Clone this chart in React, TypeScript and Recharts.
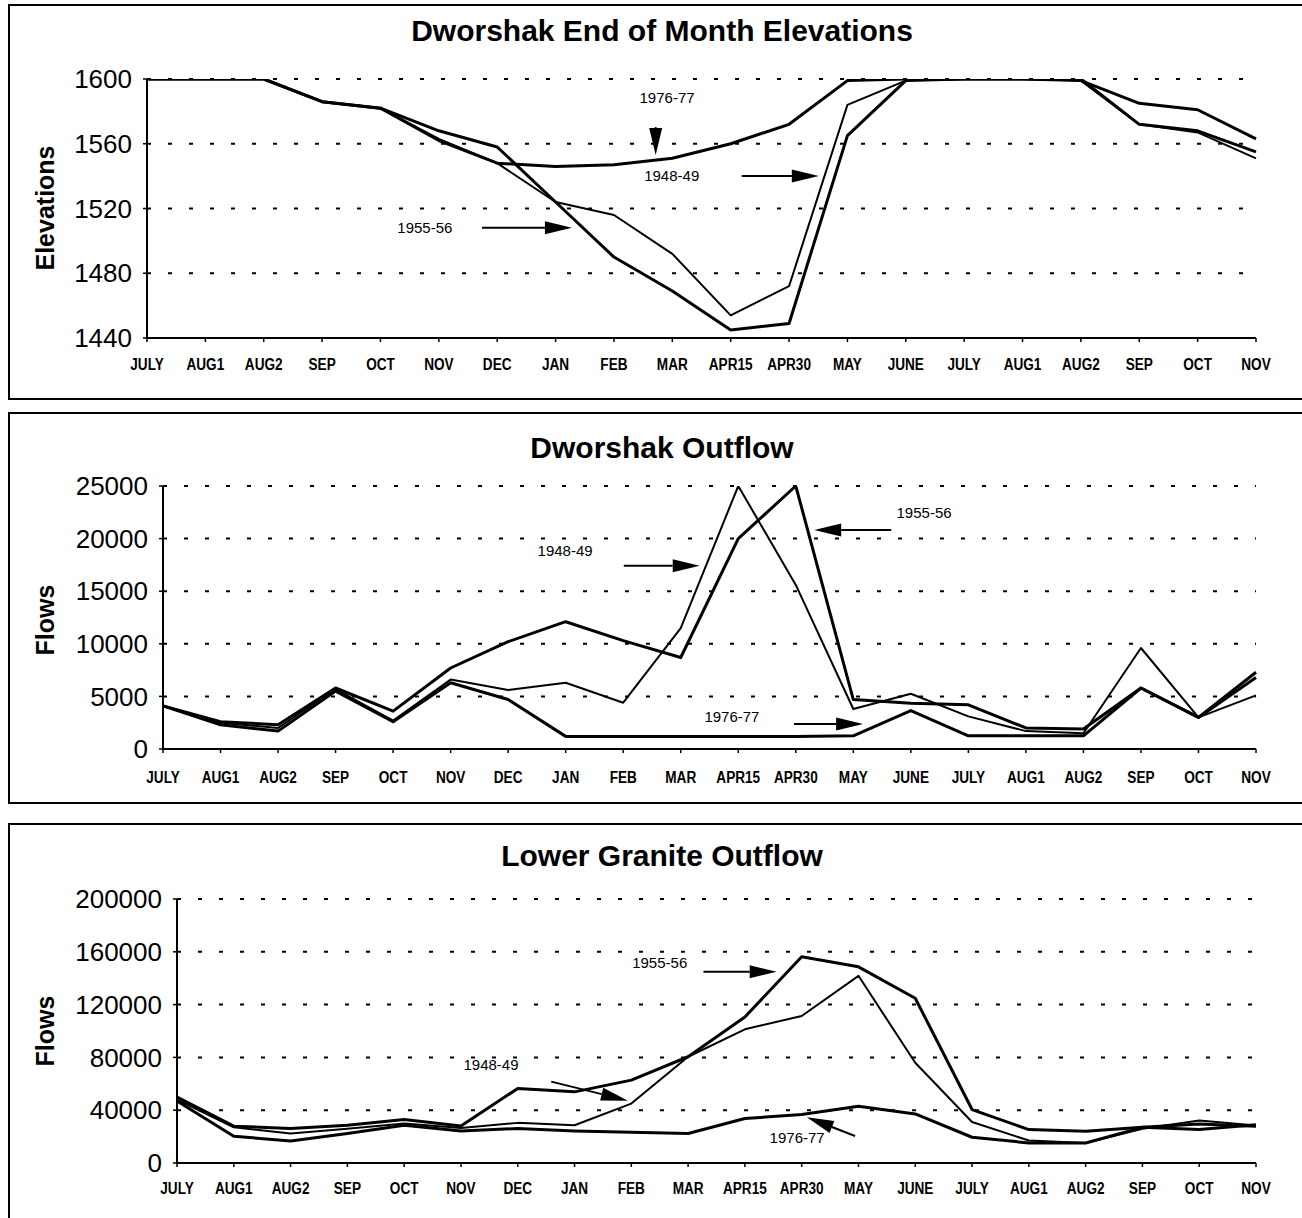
import React from 'react';
import { LineChart, Line, XAxis, YAxis, CartesianGrid, ReferenceLine, ReferenceDot } from 'recharts';

const CATEGORIES = ['JULY', 'AUG1', 'AUG2', 'SEP', 'OCT', 'NOV', 'DEC', 'JAN', 'FEB', 'MAR', 'APR15', 'APR30', 'MAY', 'JUNE', 'JULY', 'AUG1', 'AUG2', 'SEP', 'OCT', 'NOV'];
const X_TICKS = CATEGORIES.map((_, i) => i);

// Dworshak End of Month Elevations
const ELEV_1948_49 = [1600, 1600, 1600, 1586, 1582, 1563, 1548, 1524, 1516, 1492, 1454, 1472, 1584, 1599, 1600, 1600, 1599, 1572, 1567, 1551];
const ELEV_1955_56 = [1600, 1600, 1600, 1586, 1582, 1568, 1558, 1524, 1490, 1469, 1445, 1449, 1565, 1599, 1600, 1600, 1599, 1585, 1581, 1563];
const ELEV_1976_77 = [1600, 1600, 1600, 1586, 1582, 1562, 1548, 1546, 1547, 1551, 1560, 1572, 1599, 1600, 1600, 1600, 1600, 1572, 1568, 1555];
const ELEV_TICKS = [1440, 1480, 1520, 1560, 1600];

// Dworshak Outflow
const DWOR_1948_49 = [4100, 2500, 2000, 5700, 2700, 6600, 5600, 6300, 4400, 11500, 25000, 15600, 3800, 5250, 3100, 1700, 1500, 9600, 3000, 5100];
const DWOR_1955_56 = [4100, 2600, 2300, 5800, 3600, 7700, 10200, 12100, 10300, 8700, 20000, 25000, 4700, 4350, 4200, 2000, 1900, 5800, 3000, 7300];
const DWOR_1976_77 = [4100, 2300, 1700, 5500, 2600, 6300, 4700, 1200, 1200, 1200, 1200, 1200, 1250, 3650, 1250, 1250, 1250, 5800, 3000, 6800];
const DWOR_TICKS = [0, 5000, 10000, 15000, 20000, 25000];

// Lower Granite Outflow
const LGR_1948_49 = [48000, 27000, 22300, 26000, 29900, 26500, 30400, 28600, 45000, 80500, 101300, 111400, 141800, 75900, 31100, 17000, 15200, 26000, 32200, 28500];
const LGR_1955_56 = [50000, 27900, 26100, 28600, 32900, 28000, 56500, 53900, 62800, 80500, 110600, 156200, 148600, 124800, 40500, 25300, 24100, 27100, 29600, 27800];
const LGR_1976_77 = [47000, 20300, 16700, 22300, 28600, 24300, 26100, 24300, 23300, 22300, 33700, 36700, 43000, 37200, 19500, 15200, 15200, 27000, 25300, 29000];
const LGR_TICKS = [0, 40000, 80000, 120000, 160000, 200000];

// Annotations (data coordinates: category index, value)
const ELEV_LABELS = [
  { text: '1976-77', x: 8.91, y: 1588.3 },
  { text: '1948-49', x: 8.99, y: 1540 },
  { text: '1955-56', x: 4.76, y: 1508 },
];
const ELEV_ARROWS = [
  { x1: 8.715, y1: 1570.3, x2: 8.715, y2: 1553 },
  { x1: 10.19, y1: 1540.1, x2: 11.51, y2: 1540.1 },
  { x1: 5.74, y1: 1508.1, x2: 7.28, y2: 1508.1 },
];
const DWOR_LABELS = [
  { text: '1948-49', x: 6.99, y: 18821 },
  { text: '1955-56', x: 13.23, y: 22433 },
  { text: '1976-77', x: 9.89, y: 3042 },
];
const DWOR_ARROWS = [
  { x1: 8.01, y1: 17424, x2: 9.33, y2: 17424 },
  { x1: 12.66, y1: 20817, x2: 11.32, y2: 20817 },
  { x1: 10.97, y1: 2376, x2: 12.17, y2: 2376 },
];
const LGR_LABELS = [
  { text: '1955-56', x: 8.5, y: 151688 },
  { text: '1948-49', x: 5.53, y: 74327 },
  { text: '1976-77', x: 10.92, y: 18961 },
];
const LGR_ARROWS = [
  { x1: 9.27, y1: 144862, x2: 10.56, y2: 144862 },
  { x1: 6.59, y1: 61661, x2: 7.94, y2: 47250 },
  { x1: 11.94, y1: 20478, x2: 11.09, y2: 34662 },
];

const FONT = "'Liberation Sans', Arial, Helvetica, sans-serif";

const buildRows = (a: number[], b: number[], c: number[]) =>
  CATEGORIES.map((_, i) => ({ x: i, s1948: a[i], s1955: b[i], s1976: c[i] }));

const ArrowShape = (p: any) => {
  const { x1, y1, x2, y2 } = p;
  const dx = x2 - x1;
  const dy = y2 - y1;
  const len = Math.hypot(dx, dy) || 1;
  const ux = dx / len;
  const uy = dy / len;
  const hl = Math.min(27, len);
  const hw = 6.5;
  const bx = x2 - ux * hl;
  const by = y2 - uy * hl;
  return (
    <g>
      {len > hl + 0.5 && <line x1={x1} y1={y1} x2={bx} y2={by} stroke="#000" strokeWidth={2} />}
      <polygon points={`${x2},${y2} ${bx - uy * hw},${by + ux * hw} ${bx + uy * hw},${by - ux * hw}`} fill="#000" />
    </g>
  );
};

const labelShape = (text: string) => (p: any) => (
  <text x={p.cx} y={p.cy} dy="0.35em" textAnchor="middle" fontFamily={FONT} fontSize={15} fill="#000">
    {text}
  </text>
);

const XTick = (p: any) => {
  const { x, y, payload } = p;
  return (
    <g transform={`translate(${x},${y})`}>
      <text
        transform="scale(0.8,1)"
        x={0}
        y={0}
        dy="0.71em"
        textAnchor="middle"
        fontFamily={FONT}
        fontWeight={700}
        fontSize={17}
        fill="#000"
      >
        {CATEGORIES[payload.value] ?? ''}
      </text>
    </g>
  );
};

type PanelProps = {
  top: number;
  height: number;
  marginTop: number;
  marginBottom: number;
  yWidth: number;
  xTickMargin: number;
  domain: [number, number];
  ticks: number[];
  rows: any[];
  labels: { text: string; x: number; y: number }[];
  arrows: { x1: number; y1: number; x2: number; y2: number }[];
};

const Panel = (props: PanelProps) => {
  const { top, height, marginTop, marginBottom, yWidth, xTickMargin, domain, ticks, rows, labels, arrows } = props;
  return (
    <div style={{ position: 'absolute', left: 0, top, width: 1302, height }}>
      <LineChart
        width={1302}
        height={height}
        data={rows}
        margin={{ top: marginTop, right: 46, bottom: marginBottom, left: 0 }}
      >
        <CartesianGrid vertical={false} stroke="#000" strokeWidth={2} strokeDasharray="4 17" />
        <XAxis
          dataKey="x"
          type="number"
          domain={[0, 19]}
          ticks={X_TICKS}
          interval={0}
          allowDecimals={false}
          height={40}
          tick={<XTick />}
          tickSize={4}
          tickMargin={xTickMargin}
          axisLine={{ stroke: '#000', strokeWidth: 2 }}
          tickLine={{ stroke: '#000', strokeWidth: 1.5 }}
        />
        <YAxis
          type="number"
          domain={domain}
          ticks={ticks}
          interval={0}
          width={yWidth}
          tick={{ fontSize: 26, fontFamily: FONT, fill: '#000' }}
          tickSize={4}
          tickMargin={11}
          axisLine={{ stroke: '#000', strokeWidth: 2 }}
          tickLine={{ stroke: '#000', strokeWidth: 1.5 }}
          allowDataOverflow
        />
        <Line dataKey="s1948" stroke="#000" strokeWidth={2} dot={false} activeDot={false} isAnimationActive={false} strokeLinejoin="round" />
        <Line dataKey="s1955" stroke="#000" strokeWidth={3} dot={false} activeDot={false} isAnimationActive={false} strokeLinejoin="round" />
        <Line dataKey="s1976" stroke="#000" strokeWidth={3} dot={false} activeDot={false} isAnimationActive={false} strokeLinejoin="round" />
        {arrows.map((a, i) => (
          <ReferenceLine
            key={'a' + i}
            segment={[{ x: a.x1, y: a.y1 }, { x: a.x2, y: a.y2 }]}
            ifOverflow="visible"
            shape={ArrowShape}
          />
        ))}
        {labels.map((l, i) => (
          <ReferenceDot key={'l' + i} x={l.x} y={l.y} r={4} ifOverflow="visible" shape={labelShape(l.text)} />
        ))}
      </LineChart>
    </div>
  );
};

const TITLES = [
  { text: 'Dworshak End of Month Elevations', y: 30 },
  { text: 'Dworshak Outflow', y: 447 },
  { text: 'Lower Granite Outflow', y: 855 },
];
const Y_LABELS = [
  { text: 'Elevations', y: 208 },
  { text: 'Flows', y: 620 },
  { text: 'Flows', y: 1031 },
];

export default function App() {
  return (
    <div style={{ position: 'absolute', left: 0, top: 0, width: 1302, height: 1218, overflow: 'hidden', background: '#fff' }}>
      <div style={{ position: 'absolute', left: 8, top: 4, width: 1320, height: 392, border: '2px solid #000' }} />
      <div style={{ position: 'absolute', left: 8, top: 412, width: 1320, height: 388, border: '2px solid #000' }} />
      <div style={{ position: 'absolute', left: 8, top: 823, width: 1320, height: 500, border: '2px solid #000' }} />
      <Panel
        top={0}
        height={398}
        marginTop={79}
        marginBottom={20}
        yWidth={147}
        xTickMargin={16}
        domain={[1440, 1600]}
        ticks={ELEV_TICKS}
        rows={buildRows(ELEV_1948_49, ELEV_1955_56, ELEV_1976_77)}
        labels={ELEV_LABELS}
        arrows={ELEV_ARROWS}
      />
      <Panel
        top={405}
        height={397}
        marginTop={81}
        marginBottom={13}
        yWidth={163}
        xTickMargin={18}
        domain={[0, 25000]}
        ticks={DWOR_TICKS}
        rows={buildRows(DWOR_1948_49, DWOR_1955_56, DWOR_1976_77)}
        labels={DWOR_LABELS}
        arrows={DWOR_ARROWS}
      />
      <Panel
        top={820}
        height={398}
        marginTop={79}
        marginBottom={15}
        yWidth={177}
        xTickMargin={15}
        domain={[0, 200000]}
        ticks={LGR_TICKS}
        rows={buildRows(LGR_1948_49, LGR_1955_56, LGR_1976_77)}
        labels={LGR_LABELS}
        arrows={LGR_ARROWS}
      />
      <svg width={1302} height={1218} style={{ position: 'absolute', left: 0, top: 0, pointerEvents: 'none' }}>
        {TITLES.map((t, i) => (
          <text key={'t' + i} x={662} y={t.y} dy="0.35em" textAnchor="middle" fontFamily={FONT} fontWeight={700} fontSize={30} fill="#000">
            {t.text}
          </text>
        ))}
        {Y_LABELS.map((t, i) => (
          <text
            key={'y' + i}
            transform={`translate(45, ${t.y}) rotate(-90)`}
            dy="0.35em"
            textAnchor="middle"
            fontFamily={FONT}
            fontWeight={700}
            fontSize={25}
            fill="#000"
          >
            {t.text}
          </text>
        ))}
      </svg>
    </div>
  );
}
